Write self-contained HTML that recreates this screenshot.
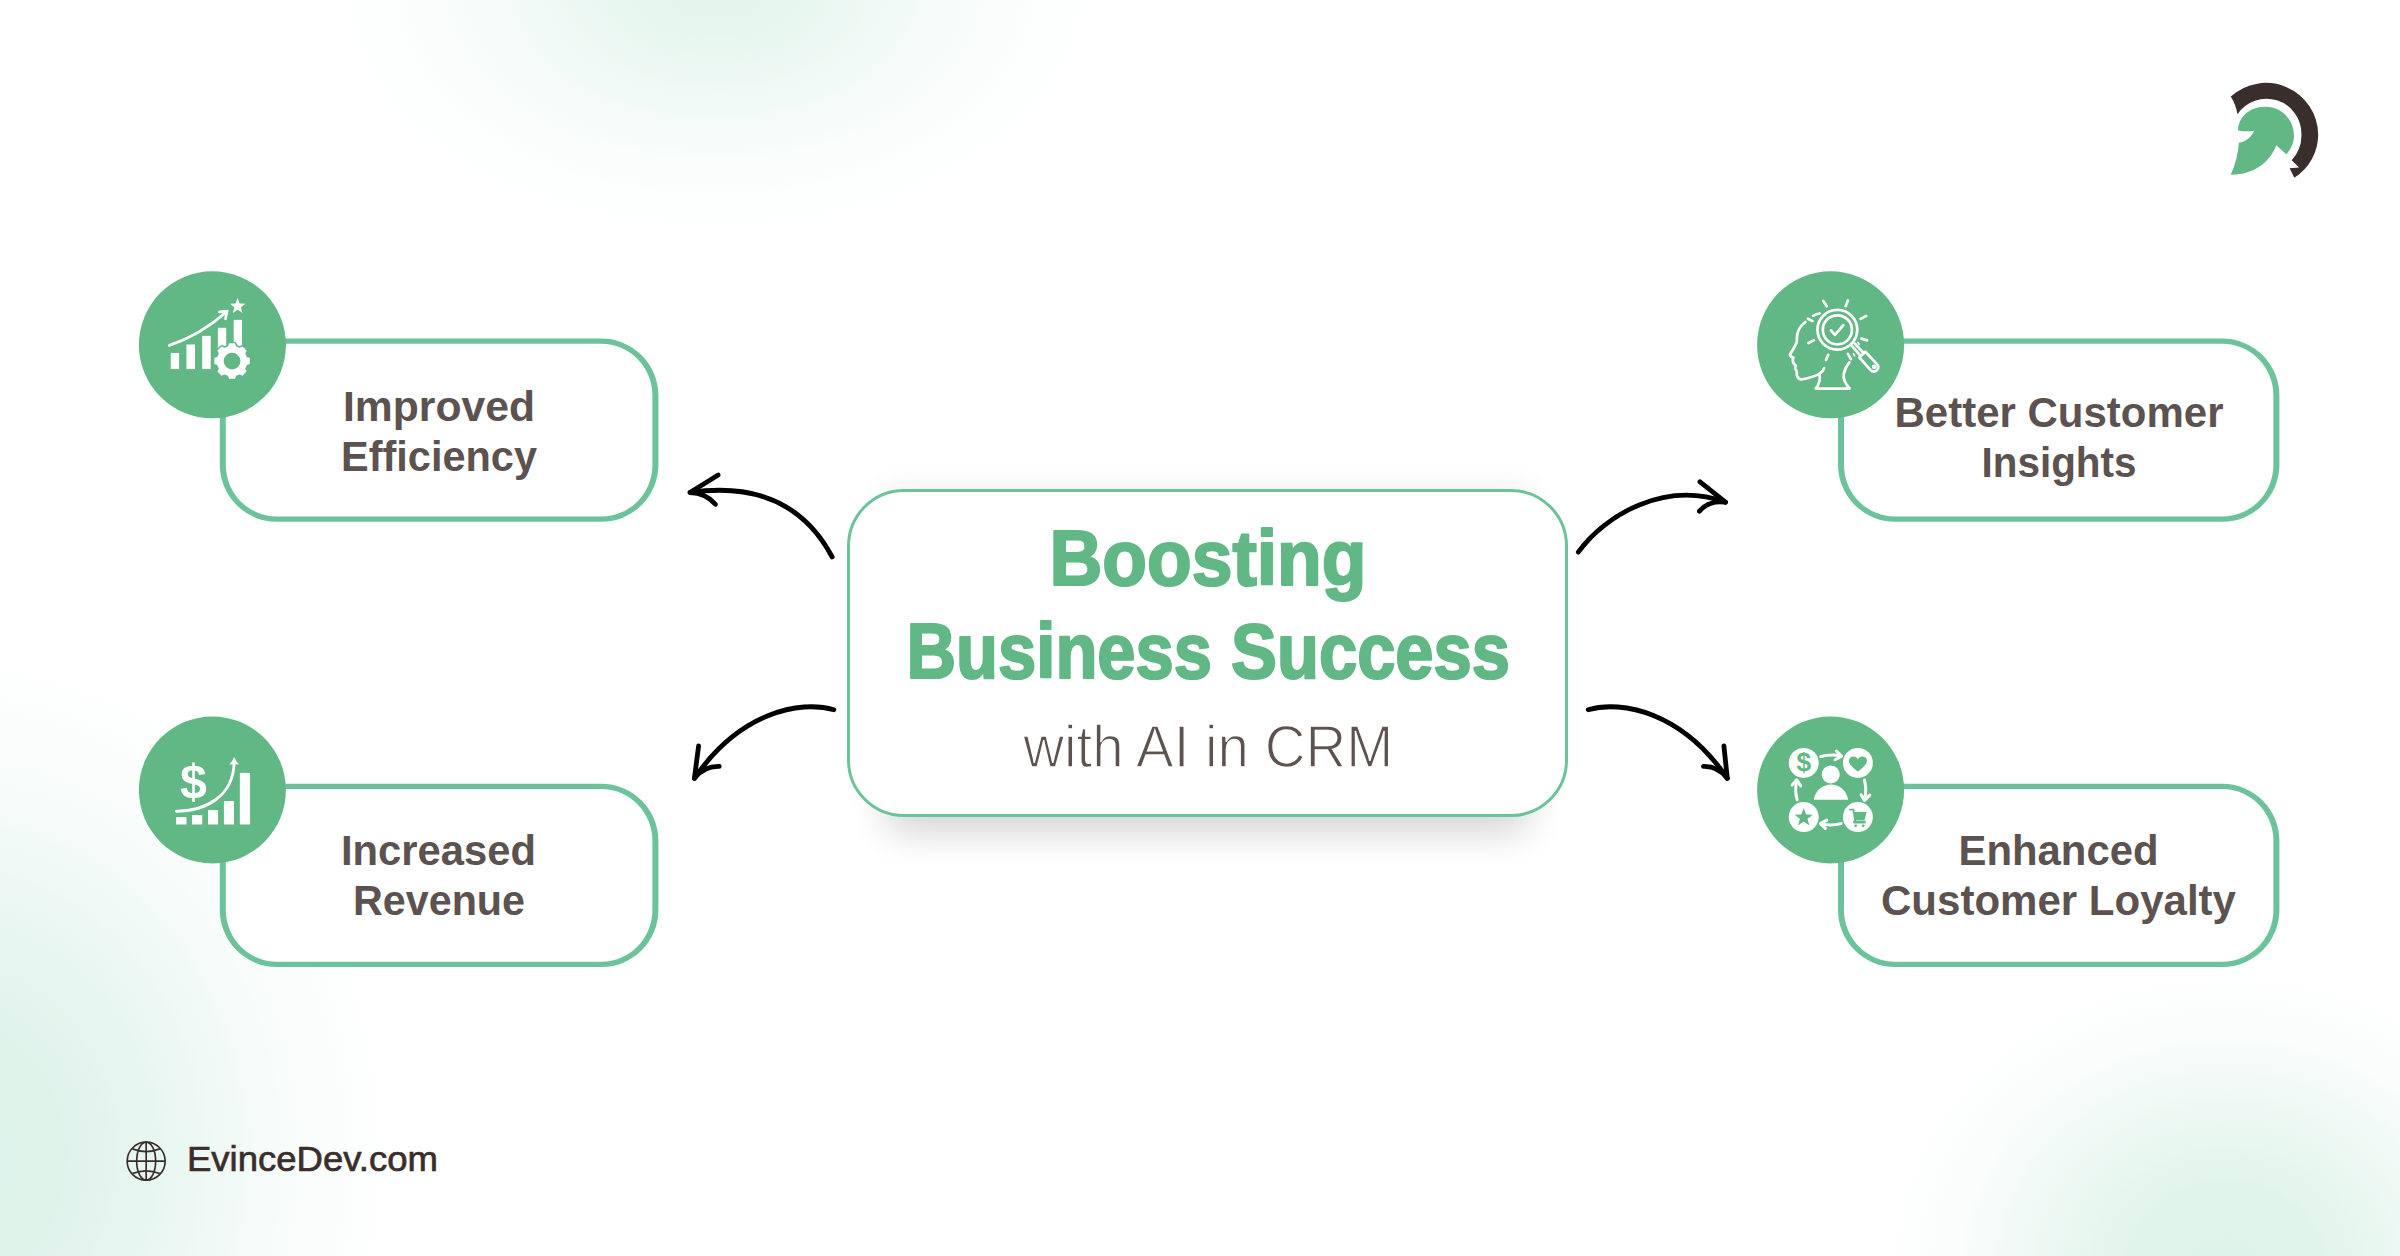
<!DOCTYPE html>
<html lang="en">
<head>
<meta charset="utf-8">
<title>Boosting Business Success with AI in CRM</title>
<style>
html,body{margin:0;padding:0;}
body{width:2400px;height:1256px;overflow:hidden;background:#fff;font-family:"Liberation Sans",sans-serif;}
#stage{position:relative;width:2400px;height:1256px;overflow:hidden;background:
 radial-gradient(ellipse 405px 265px at 715px -15px, rgba(225,244,236,1) 0%, rgba(225,244,236,0.74) 25%, rgba(225,244,236,0.33) 55%, rgba(225,244,236,0.08) 80%, rgba(225,244,236,0) 100%),
 radial-gradient(ellipse 445px 505px at -50px 1155px, rgba(221,242,234,1) 0%, rgba(221,242,234,0.95) 25%, rgba(221,242,234,0.62) 50%, rgba(221,242,234,0.22) 75%, rgba(221,242,234,0) 100%),
 radial-gradient(ellipse 345px 302px at 2226px 1268px, rgba(222,243,234,1) 0%, rgba(222,243,234,0.9) 28%, rgba(222,243,234,0.52) 55%, rgba(222,243,234,0.15) 80%, rgba(222,243,234,0) 100%),
 #fff;}
#cbox{position:absolute;left:846.7px;top:488.6px;width:721.3px;height:328.2px;box-sizing:border-box;border:3.6px solid #6cc39b;border-radius:57px;background:#fff;
 box-shadow:0 54px 36px -38px rgba(0,0,0,0.165),0 -38px 30px -32px rgba(0,0,0,0.05);}
svg#art{position:absolute;left:0;top:0;}
.lbl{font-family:"Liberation Sans",sans-serif;font-weight:700;fill:#5c524f;font-size:43.3px;}
.ttl{font-family:"Liberation Sans",sans-serif;font-weight:700;fill:#61b885;stroke:#61b885;stroke-width:2.2px;stroke-linejoin:round;font-size:77px;}
.sub{font-family:"Liberation Sans",sans-serif;font-weight:400;fill:#5c524f;stroke:#fff;stroke-width:1.4px;font-size:58.5px;}
.web{font-family:"Liberation Sans",sans-serif;font-weight:400;fill:#3a2e2c;stroke:#3a2e2c;stroke-width:0.7px;font-size:35.6px;}
</style>
</head>
<body>
<div id="stage">
<div id="cbox"></div>
<svg id="art" width="2400" height="1256" viewBox="0 0 2400 1256">
<!-- BOXES -->
<g stroke="none">
<rect x="219.8" y="338.6" width="438.6" height="183.2" rx="57" ry="57" fill="#6cc39b"/>
<rect x="225.80" y="343.85" width="426.60" height="172.70" rx="51" ry="51.7" fill="#fff"/>
<rect x="219.8" y="783.8" width="438.6" height="183.2" rx="57" ry="57" fill="#6cc39b"/>
<rect x="225.80" y="789.05" width="426.60" height="172.70" rx="51" ry="51.7" fill="#fff"/>
<rect x="1838" y="338.6" width="441.4" height="183.2" rx="57" ry="57" fill="#6cc39b"/>
<rect x="1844.00" y="343.85" width="429.40" height="172.70" rx="51" ry="51.7" fill="#fff"/>
<rect x="1838" y="783.8" width="441.4" height="183.2" rx="57" ry="57" fill="#6cc39b"/>
<rect x="1844.00" y="789.05" width="429.40" height="172.70" rx="51" ry="51.7" fill="#fff"/>
</g>
<!-- CIRCLES -->
<g fill="#61b885">
<circle cx="212.4" cy="344.8" r="73.5"/>
<circle cx="212.4" cy="790" r="73.5"/>
<circle cx="1830.6" cy="344.8" r="73.5"/>
<circle cx="1830.6" cy="790" r="73.5"/>
</g>
<!-- ARROWS -->
<g id="arrows" fill="none" stroke="#000" stroke-width="4.8" stroke-linecap="round" stroke-linejoin="round">
<path d="M832.2 557 Q790 478 690 492.5"/>
<path d="M718.2 475 L690 492.5 Q706 493 715.4 504.3"/>
<path d="M833.9 709.7 C800 700 740 712 694.4 778.3"/>
<path d="M698.6 746 L694.4 778.3 Q704 766 719.2 766.4"/>
<path d="M1578.3 552.1 C1605 515 1665 480 1725.5 502.2"/>
<path d="M1700 481.8 L1725.5 502.2 Q1709 500 1699.4 511.1"/>
<path d="M1588.2 709.7 C1622 700 1682 712 1727.3 778.3"/>
<path d="M1723.9 746 L1727.3 778.3 Q1718 766 1703.5 766.4"/>
</g>
<!-- ICONS -->
<g id="icon1" transform="translate(160,295) scale(0.07962)" fill="#fff">
<rect x="135" y="728" width="105" height="202"/>
<rect x="332" y="622" width="108" height="308"/>
<rect x="530" y="513" width="107" height="417"/>
<rect x="727" y="412" width="105" height="300"/>
<rect x="925" y="312" width="105" height="380"/>
<path d="M863.6 650.7 L873.1 616.4 L936.9 616.4 L946.4 650.7 L1002.5 674.0 L1033.5 656.4 L1078.6 701.5 L1061.0 732.5 L1084.3 788.6 L1118.6 798.1 L1118.6 861.9 L1084.3 871.4 L1061.0 927.5 L1078.6 958.5 L1033.5 1003.6 L1002.5 986.0 L946.4 1009.3 L936.9 1043.6 L873.1 1043.6 L863.6 1009.3 L807.5 986.0 L776.5 1003.6 L731.4 958.5 L749.0 927.5 L725.7 871.4 L691.4 861.9 L691.4 798.1 L725.7 788.6 L749.0 732.5 L731.4 701.5 L776.5 656.4 L807.5 674.0ZM791 830a114 114 0 1 0 228 0a114 114 0 1 0 -228 0Z" fill="#61b885" stroke="#61b885" stroke-width="56" stroke-linejoin="round"/>
<path d="M863.6 650.7 L873.1 616.4 L936.9 616.4 L946.4 650.7 L1002.5 674.0 L1033.5 656.4 L1078.6 701.5 L1061.0 732.5 L1084.3 788.6 L1118.6 798.1 L1118.6 861.9 L1084.3 871.4 L1061.0 927.5 L1078.6 958.5 L1033.5 1003.6 L1002.5 986.0 L946.4 1009.3 L936.9 1043.6 L873.1 1043.6 L863.6 1009.3 L807.5 986.0 L776.5 1003.6 L731.4 958.5 L749.0 927.5 L725.7 871.4 L691.4 861.9 L691.4 798.1 L725.7 788.6 L749.0 732.5 L731.4 701.5 L776.5 656.4 L807.5 674.0ZM791 830a114 114 0 1 0 228 0a114 114 0 1 0 -228 0Z" fill-rule="evenodd" stroke="#fff" stroke-width="18" stroke-linejoin="round"/>
<path d="M118 634 Q510 500 836 210" fill="none" stroke="#fff" stroke-width="36" stroke-linecap="round"/>
<path d="M745 212 L842 203 L822 300" fill="none" stroke="#fff" stroke-width="33" stroke-linecap="round" stroke-linejoin="miter"/>
<path d="M975.0 38.0 L1000.3 107.2 L1073.9 109.9 L1015.9 155.3 L1036.1 226.1 L975.0 185.0 L913.9 226.1 L934.1 155.3 L876.1 109.9 L949.7 107.2Z"/>
</g>
<g id="icon2" transform="translate(165,745) scale(0.07962)" fill="#fff">
<rect x="140" y="905" width="130" height="93"/>
<rect x="340" y="880" width="128" height="118"/>
<rect x="540" y="818" width="127" height="180"/>
<rect x="740" y="705" width="127" height="293"/>
<rect x="940" y="350" width="128" height="648"/>
<path d="M142 832 C520 830 850 640 868 235" fill="none" stroke="#fff" stroke-width="36" stroke-linecap="round"/>
<path d="M868 150 Q895 205 930 245 Q868 238 808 245 Q845 205 868 150Z"/>
<text x="357" y="661" text-anchor="middle" font-family="Liberation Sans, sans-serif" font-weight="700" font-size="606" fill="#fff">$</text>
</g>
<g id="icon3" transform="translate(1780,290) scale(0.08758)" fill="none" stroke="#fff" stroke-width="31" stroke-linecap="round" stroke-linejoin="round">
<circle cx="655" cy="455" r="227"/>
<circle cx="655" cy="455" r="166"/>
<path d="M582 462 L628 512 L723 402"/>
<path d="M822 640 L912 742 M855 612 L948 712"/>
<path d="M905 770 L975 705 L1115 855 Q1135 890 1100 920 Q1065 945 1035 915 Z"/>
<circle cx="1075" cy="877" r="11"/>
<path d="M452 268 Q410 275 378 295"/>
<path d="M290 365 Q205 430 195 520 Q192 570 190 600 Q160 670 112 738 Q118 762 152 772 Q140 800 150 830 Q165 850 182 866 Q170 885 178 905 Q195 920 192 950 Q190 1010 240 1022 Q370 1000 450 958 Q495 925 505 892"/>
<path d="M450 958 Q470 1050 408 1125 L795 1125 Q715 1040 728 960 Q745 880 792 826"/>
<path d="M495 125 L535 185 M775 120 L750 185 M985 295 L920 330 M995 575 L930 555 M385 575 L325 605 M550 740 L525 800 M775 730 L810 790 M318 328 L372 355"/>
<path d="M838 728 L852 752 M890 598 L903 622" stroke-width="18"/>
</g>
<g id="icon4" transform="translate(1780,740) scale(0.07962)" fill="#fff">
<circle cx="298" cy="288" r="188"/>
<circle cx="978" cy="288" r="188"/>
<circle cx="298" cy="968" r="188"/>
<circle cx="978" cy="968" r="188"/>
<circle cx="637" cy="433" r="113"/>
<path d="M425 752 C440 640 530 560 640 560 C750 560 840 640 855 752 Z"/>
<g fill="none" stroke="#fff" stroke-width="38" stroke-linecap="round" stroke-linejoin="round">
<path d="M512 208 Q640 176 758 198"/>
<path d="M708 138 L772 203 L692 248"/>
<path d="M1060 502 Q1092 620 1064 742"/>
<path d="M1018 688 L1062 758 L1128 692"/>
<path d="M768 1050 Q640 1082 522 1056"/>
<path d="M588 1006 L508 1050 L570 1112"/>
<path d="M215 752 Q186 640 206 522"/>
<path d="M152 566 L210 500 L260 576"/>
</g>
<text x="299" y="392" text-anchor="middle" font-family="Liberation Sans, sans-serif" font-weight="700" font-size="330" fill="#61b885">$</text>
<path d="M978 396 C930 360 865 310 865 262 C865 225 893 206 922 206 C947 206 968 220 978 242 C988 220 1009 206 1034 206 C1063 206 1092 225 1092 262 C1092 310 1026 360 978 396Z" fill="#61b885"/>
<path d="M298.0 854.0 L327.4 934.5 L413.1 937.6 L345.6 990.5 L369.1 1072.9 L298.0 1025.0 L226.9 1072.9 L250.4 990.5 L182.9 937.6 L268.6 934.5Z" fill="#61b885"/>
<g fill="#61b885">
<path d="M925 905 L1088 905 L1062 1005 L940 1005 Z"/>
<rect x="917" y="1012" width="162" height="38" rx="19"/>
<circle cx="950" cy="1078" r="17"/><circle cx="1045" cy="1078" r="17"/>
</g>
<path d="M876 874 L922 874 L944 1010" fill="none" stroke="#61b885" stroke-width="24" stroke-linecap="round" stroke-linejoin="round"/>
</g>
<!-- LOGO -->
<g id="logo" transform="translate(2180,60) scale(0.13534)">
<path d="M375 270 A386 386 0 0 1 1021 548 A378 378 0 0 1 845 870 L810 800 L880 795 L825 740 A264 264 0 0 0 897 548 A258 258 0 0 0 425 400 Q412 330 375 270Z" fill="#3a2e2c"/>
<path d="M430 520 C425 440 500 345 630 345 C760 345 842 450 842 560 C842 610 820 660 785 697 L712 630 C660 760 540 850 375 847 C410 770 430 690 435 612 C490 600 530 565 548 522 C510 530 465 528 430 520Z" fill="#61b885"/>
</g>
<!-- GLOBE -->
<g id="globe" transform="translate(120,1135) scale(0.041401)" fill="none" stroke="#3a2e2c" stroke-width="40">
<circle cx="632" cy="632" r="459"/>
<ellipse cx="632" cy="632" rx="229" ry="459"/>
<path d="M632 173 V1091 M173 632 H1091"/>
<path d="M300 335 Q632 465 962 335 M300 930 Q632 800 962 930"/>
</g>
<!-- TEXT -->
<text class="lbl" x="343" y="420.8" textLength="192" lengthAdjust="spacingAndGlyphs">Improved</text>
<text class="lbl" x="341" y="470.7" textLength="196" lengthAdjust="spacingAndGlyphs">Efficiency</text>
<text class="lbl" x="341" y="864.7" textLength="195" lengthAdjust="spacingAndGlyphs">Increased</text>
<text class="lbl" x="353" y="914.8" textLength="172" lengthAdjust="spacingAndGlyphs">Revenue</text>
<text class="lbl" x="1894.5" y="426.8" textLength="329" lengthAdjust="spacingAndGlyphs">Better Customer</text>
<text class="lbl" x="1981.5" y="476.7" textLength="155" lengthAdjust="spacingAndGlyphs">Insights</text>
<text class="lbl" x="1958.5" y="864.9" textLength="200" lengthAdjust="spacingAndGlyphs">Enhanced</text>
<text class="lbl" x="1881" y="915" textLength="355" lengthAdjust="spacingAndGlyphs">Customer Loyalty</text>
<text class="ttl" x="1049.5" y="585" textLength="317" lengthAdjust="spacingAndGlyphs">Boosting</text>
<text class="ttl" x="906.5" y="677.8" textLength="603.5" lengthAdjust="spacingAndGlyphs">Business Success</text>
<text class="sub" x="1023.2" y="766.7" textLength="370" lengthAdjust="spacingAndGlyphs">with AI in CRM</text>
<text class="web" x="187" y="1170.8" textLength="251" lengthAdjust="spacingAndGlyphs">EvinceDev.com</text>
</svg>
</div>
</body>
</html>
